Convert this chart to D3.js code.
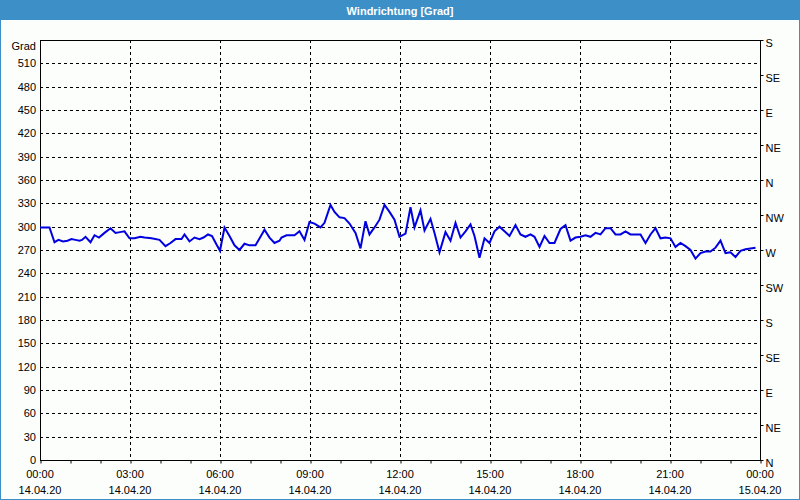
<!DOCTYPE html>
<html>
<head>
<meta charset="utf-8">
<script src="https://cdn.jsdelivr.net/npm/d3@7"></script>
<style>
  body { margin: 0; background: #fcfefc; }
  svg { display: block; font-family: "Liberation Sans", Arial, sans-serif; }
</style>
</head>
<body>
<svg id="chart" width="800" height="500"></svg>
<script>
// minutes after 14.04.20 00:00
const MINUTES = [0,19,29,37,46,55,63,71,79,84,91,101,109,118,129,141,151,160,169,179,189,201,209,223,239,251,261,271,283,289,299,309,319,327,336,344,353,360,369,379,389,399,409,419,431,441,449,459,469,479,
  483,493,509,519,529,539,549,561,569,581,589,599,609,619,631,641,651,659,669,679,689,699,709,719,731,741,749,761,769,781,789,799,811,821,831,841,851,861,869,879,889,899,909,919,929,939,951,961,
  971,981,989,999,1009,1019,1029,1041,1051,1061,1071,1081,1091,1101,1111,1121,1131,1141,1151,1161,1171,1181,1191,1201,1211,1221,1231,1241,1251,1261,1271,1281,1291,1301,1311,1321,1331,1341,1351,1361,1371,1381,1391,1401,1411,1421,1431]
const DEGREES = [299,299,280,283,281,282,284,283,282,283,287,280,289,286,292,298,292,293,294,285,285,287,286,285,283,275,279,284,284,290,281,286,284,286,290,288,277,269,299,288,276,270,278,276,276,287,296,286,279,282,
  286,289,289,294,283,306,304,299,305,328,319,312,311,304,292,272,307,290,299,309,328,319,309,287,291,325,299,321,295,310,292,267,293,282,305,286,294,303,288,260,285,279,294,300,294,288,302,290,
  287,290,287,274,288,279,279,297,302,282,286,287,289,287,292,290,298,298,290,290,294,290,290,290,279,290,298,285,286,285,274,279,275,270,259,266,268,268,273,282,266,267,261,269,271,272,273]

const Y_TICKS = d3.range(0, 540, 30)          // 0 .. 510
const COMPASS = ['N','NE','E','SE','S','SW','W','NW','N','NE','E','SE','S']
const COMPASS_VALUES = d3.range(0, 541, 45)
const X_MAJOR = d3.range(0, 1441, 180)
const X_TIME = ['00:00','03:00','06:00','09:00','12:00','15:00','18:00','21:00','00:00']
const X_DATE = ['14.04.20','14.04.20','14.04.20','14.04.20','14.04.20','14.04.20','14.04.20','14.04.20','15.04.20']

const svg = d3.select('#chart')
const width = 800, height = 500
const margin = { top: 40, bottom: 40, left: 40, right: 40 }
const innerWidth = width - margin.left - margin.right
const innerHeight = height - margin.top - margin.bottom

// title bar + frame
svg.append('rect').attr('x', 0).attr('y', 0).attr('width', width).attr('height', 20).attr('fill', '#3c8fc7')
svg.append('rect').attr('x', 0.5).attr('y', 0.5).attr('width', width - 1).attr('height', height - 1)
  .attr('fill', 'none').attr('stroke', '#3c8fc7')
svg.append('text').attr('x', width / 2).attr('y', 14.5).attr('text-anchor', 'middle')
  .attr('fill', 'white').style('font-weight', 'bold').style('font-size', '11px')
  .text('Windrichtung [Grad]')

const xScale = d3.scaleLinear().domain([0, 1440]).range([0, innerWidth])
const yScale = d3.scaleLinear().domain([0, 540]).range([innerHeight, 0])

const g = svg.append('g').attr('transform', 'translate(' + margin.left + ',' + margin.top + ')')

// grid
g.selectAll('.hgrid').data(Y_TICKS.filter(d => d > 0)).enter().append('line')
  .attr('x1', 0).attr('x2', innerWidth)
  .attr('y1', d => Math.round(yScale(d)) + 0.5).attr('y2', d => Math.round(yScale(d)) + 0.5)
  .attr('stroke', 'black').attr('stroke-dasharray', '3,3')
g.selectAll('.vgrid').data(X_MAJOR.slice(1, -1)).enter().append('line')
  .attr('y1', 0).attr('y2', innerHeight)
  .attr('x1', d => Math.round(xScale(d)) + 0.5).attr('x2', d => Math.round(xScale(d)) + 0.5)
  .attr('stroke', 'black').attr('stroke-dasharray', '3,3')

// frame of plot
g.append('rect').attr('x', 0.5).attr('y', 0.5).attr('width', innerWidth).attr('height', innerHeight)
  .attr('fill', 'none').attr('stroke', 'black')

// left axis labels
const yAxis = d3.axisLeft(yScale).tickValues(Y_TICKS).tickSize(0).tickPadding(4)
g.append('g').call(yAxis).call(a => a.select('.domain').remove())
  .selectAll('text').style('font-size', '11px').attr('fill', 'black').style('font-family', 'inherit')
g.append('text').attr('x', -4).attr('y', 10).attr('text-anchor', 'end')
  .style('font-size', '11px').text('Grad')

// right compass axis
const rightAxis = d3.axisRight(yScale).tickValues(COMPASS_VALUES).tickSize(3).tickPadding(2)
  .tickFormat((d, i) => COMPASS[i])
g.append('g').attr('transform', 'translate(' + (innerWidth + 0.5) + ',0)').call(rightAxis)
  .call(a => a.select('.domain').remove())
  .selectAll('text').style('font-size', '11px').attr('fill', 'black').style('font-family', 'inherit')
  .attr('dy', '0.55em')

// bottom axis with hourly ticks
const xAxis = d3.axisBottom(xScale).tickValues(d3.range(0, 1441, 60)).tickSize(3).tickFormat('')
g.append('g').attr('transform', 'translate(0.5,' + (innerHeight + 0.5) + ')').call(xAxis)
  .call(a => a.select('.domain').remove())
const labels = g.append('g').style('font-size', '11px').attr('text-anchor', 'middle')
labels.selectAll('.t').data(X_MAJOR).enter().append('text')
  .attr('x', d => xScale(d)).attr('y', innerHeight + 18).text((d, i) => X_TIME[i])
labels.selectAll('.d').data(X_MAJOR).enter().append('text')
  .attr('x', d => xScale(d)).attr('y', innerHeight + 34).text((d, i) => X_DATE[i])

// series
const points = MINUTES.map((m, i) => [m, DEGREES[i]])
const line = d3.line().x(d => xScale(d[0])).y(d => yScale(d[1]))
g.append('path').datum(points).attr('d', line)
  .attr('fill', 'none').attr('stroke', '#0000e0').attr('stroke-width', 2)
</script>
</body>
</html>
